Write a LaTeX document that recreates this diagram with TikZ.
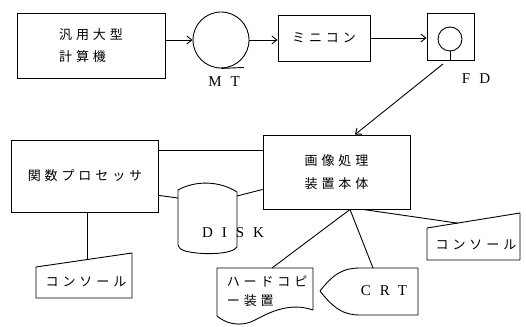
\documentclass[tikz,border=0pt]{standalone}
\usepackage{fontspec}
\usetikzlibrary{arrows.meta,calc}
\newfontfamily\jp{Noto Sans CJK JP}[LetterSpace=30]
\newfontfamily\lat{Liberation Serif}[LetterSpace=60]
\begin{document}
\begin{tikzpicture}[x=1pt,y=-1pt, line width=0.9pt,
  box/.style={draw, rectangle, inner sep=0pt},
  jtext/.style={font=\jp\fontsize{13}{22}\selectfont, align=center},
  ltext/.style={font=\lat\fontsize{15}{17}\selectfont, inner sep=0pt},
  arr/.style={-{Straight Barb[length=5pt,width=8pt]}},
  shapeline/.style={draw, line join=round}
]
\useasboundingbox (0,0) rectangle (526,326);

% top row
\node[box, jtext, align=left, minimum width=148pt, minimum height=65pt] (hk) at (91,45.5) {汎用大型\\計算機};
\node[draw, circle, minimum size=56pt, inner sep=0pt] (mt) at (221,40) {};
\node[ltext] (mtl) at (224,82) {MT};
\node[box, jtext, minimum width=92pt, minimum height=46pt] (mini) at (324,38) {ミニコン};
\node[box, minimum width=47pt, minimum height=47pt] (fd) at (450.5,36.5) {};
\node[draw, circle, minimum size=24pt, inner sep=0pt] (fdc) at (450,39) {};
\node[ltext] (fdl) at (476,79) {FD};

\draw (mt.south) -- ++(23,-1);
\draw (fdc.south) -- (fdc.south |- fd.south);

\draw[arr] (hk.east |- mt.west) -- (mt.west);
\draw[arr] (mt.east) -- (mt.east -| mini.west);
\draw[arr] (mini.east) -- (mini.east -| fd.west);

% middle row
\node[box, jtext, font=\jp\fontsize{13}{23}\selectfont, minimum width=147pt, minimum height=74pt] (gazo) at (336.5,172) {画像処理\\装置本体};
\node[box, jtext, minimum width=147pt, minimum height=72pt] (kansu) at (85,176) {関数プロセッサ};

\coordinate (fdout) at (443,64);
\draw[arr] (fdout) -- ([xshift=18.5pt]gazo.north);

\draw ([yshift=-11pt]kansu.north east) -- ([yshift=-16pt]gazo.north west);

% DISK
\path[shapeline] (178,190) .. controls (196,180) and (220,181) .. (237,192)
  -- (237,247) .. controls (232,255) and (200,255) .. (185,251)
  .. controls (180,249) .. (178,245) -- cycle;
\coordinate (diskL) at (178,198);
\coordinate (diskR) at (237,196);
\node[ltext] (diskl) at (233,233) {DISK};
\draw ([yshift=17pt]kansu.south east) -- (diskL);
\draw (diskR) -- ([yshift=20pt]gazo.south west);

% left console
\path[shapeline] (36,267) -- (132,253) -- (132,298) -- (36,298) -- cycle;
\coordinate (c1top) at (87,258.5);
\node[jtext] (c1) at (86,282) {コンソール};
\draw (kansu.south -| c1top) -- (c1top);

% right console
\path[shapeline] (427,228) -- (520,213) -- (520,260) -- (427,260) -- cycle;
\coordinate (c2top) at (458,223.2);
\node[jtext] (c2) at (476,245) {コンソール};

% hard copy
\path[shapeline] (217,268) -- (313,268) -- (313,310)
  .. controls (290,302) and (270,312) .. (255,320)
  .. controls (240,328) and (225,323) .. (217,316) -- cycle;
\coordinate (hctop) at (272,268);
\node[jtext, align=left, anchor=west, font=\jp\fontsize{13}{19}\selectfont] (hc) at (223,291.5) {ハードコピ\\ー\hspace{4pt}装置};

% CRT
\path[shapeline] (320,291) .. controls (334,273) and (344,268) .. (360,268)
  -- (418,268) -- (418,315) -- (360,315)
  .. controls (344,315) and (334,309) .. cycle;
\coordinate (crttop) at (373,268);
\node[ltext] (crtl) at (384,291) {CRT};

% connectors from main unit
\draw ([xshift=13.5pt]gazo.south) -- (hctop);
\draw ([xshift=13.5pt]gazo.south) -- (crttop);
\draw ([xshift=26.5pt]gazo.south) -- (c2top);
\end{tikzpicture}
\end{document}
